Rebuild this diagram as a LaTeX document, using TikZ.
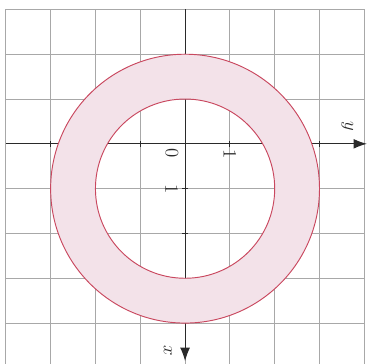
\documentclass[tikz,border=0pt]{standalone}
\usepackage{xcolor}
\usepackage{tikz}
\usetikzlibrary{arrows.meta}
\definecolor{ringfill}{HTML}{F3E2E9}
\definecolor{ringline}{HTML}{C9485F}
\definecolor{gridgray}{HTML}{A8A8A8}
\definecolor{axisink}{HTML}{2A2A2A}

\begin{document}
\begin{tikzpicture}[
  every node/.style={font=\large, text=axisink, inner sep=1pt, rotate=-90},
  gridline/.style={draw=gridgray, line width=0.5pt},
  ring/.style={fill=ringfill, draw=ringline, line width=0.6pt, even odd rule},
  axis/.style={-{Latex[length=3mm,width=2.2mm]}, draw=axisink, line width=0.7pt},
  tick/.style={draw=axisink, line width=0.7pt}]
\useasboundingbox (-4.13,-4.91) rectangle (4.06,3.21);
% grid of the scanned page
\foreach \gx in {-4,...,4} {\draw[gridline] (\gx,3) -- (\gx,-4.91);}
\foreach \gy in {3,...,-4} {\draw[gridline] (-4,\gy) -- (4,\gy);}
% axes
\coordinate (west) at (-4,0);
\coordinate (east) at (4.06,0);
\coordinate (north) at (0,3);
\coordinate (south) at (0,-4.85);
\draw[axis] (west) -- (east);
\draw[axis] (north) -- (south);
\foreach \tx in {-3,-1,1,3} {\draw[tick] (\tx,-0.07) -- (\tx,0.07);}
\foreach \ty in {-1,-2} {\draw[tick] (-0.07,\ty) -- (0.07,\ty);}
% the ring, centre one unit down the x axis, lies over the axes
\coordinate (c) at (0,-1);
\path[ring] (c) circle (3) (c) circle (2);
% labels
\node (orig) at (-0.29,-0.2) {0};
\node (ylab1) at (1,-0.22) {1};
\node (xlab1) at (-0.3,-1) {1};
\node (ylab) at (3.62,0.4) {$y$};
\node (xlab) at (-0.38,-4.62) {$x$};
\end{tikzpicture}
\end{document}
